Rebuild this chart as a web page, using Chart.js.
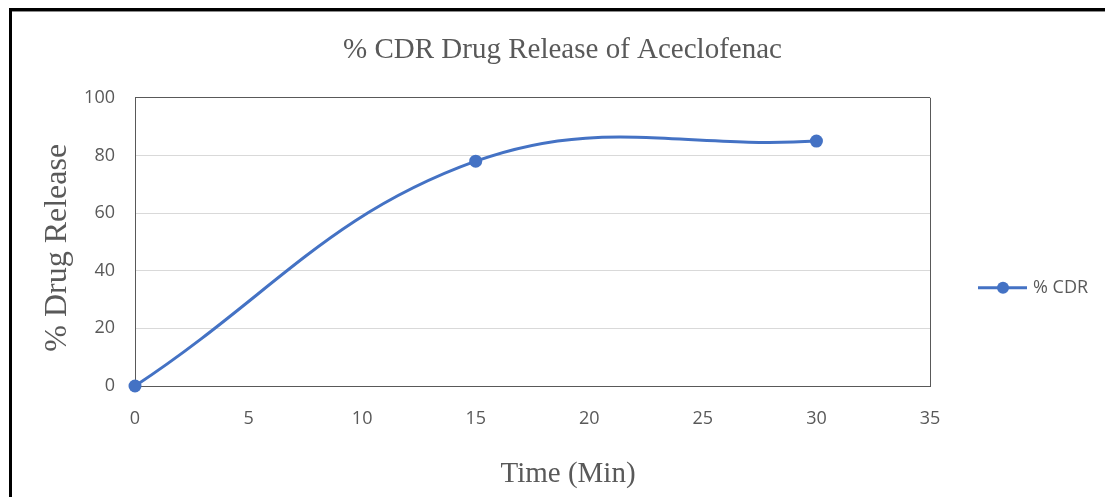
<!DOCTYPE html>
<html>
<head>
<meta charset="utf-8">
<title>% CDR Drug Release of Aceclofenac</title>
<script src="https://cdn.jsdelivr.net/npm/chart.js@4/dist/chart.umd.min.js"></script>
<style>
  html, body { margin: 0; padding: 0; background: #fff; }
  #wrap { position: relative; width: 1105px; height: 497px; }
</style>
</head>
<body>
<div id="wrap"><canvas id="cdrChart" width="1105" height="497"></canvas></div>
<script>
/* data */
const timeMin = [0, 15, 30];
const cdrValues = [0, 78, 85];
const seriesName = '% CDR';
const xTicks = [0, 5, 10, 15, 20, 25, 30, 35];
const yTicks = [0, 20, 40, 60, 80, 100];
const xTitle = 'Time (Min)';
const yTitle = '% Drug Release';

const BLUE = '#4472C4';
const GREY_TEXT = '#595959';
const BOX = '#595959';
const GRID = '#d9d9d9';
const SERIF = '"Liberation Serif", "Times New Roman", serif';

// outer frame, axis titles and the legend entry at the right
const framePlugin = {
  id: 'frameAndLegend',
  afterDraw(chart) {
    const ctx = chart.ctx;
    const area = chart.chartArea;
    ctx.save();
    ctx.fillStyle = '#000';
    ctx.fillRect(9, 8, chart.width - 9, 3);
    ctx.fillRect(9, 8, 3, chart.height - 8);
    ctx.fillStyle = '#8c8c8c';
    ctx.fillRect(12, 11, chart.width - 12, 1);

    // axis titles
    ctx.fillStyle = GREY_TEXT;
    ctx.textAlign = 'center';
    ctx.textBaseline = 'middle';
    ctx.font = '29px ' + SERIF;
    ctx.fillText(xTitle, area.left + 433, 474);
    ctx.save();
    ctx.translate(58, area.top + 150);
    ctx.rotate(-Math.PI / 2);
    ctx.font = '32px ' + SERIF;
    ctx.fillText(yTitle, 0, 0);
    ctx.restore();

    // legend
    const ds = chart.data.datasets[0];
    const lx = area.right + 48;
    const ly = area.top + 190;
    ctx.strokeStyle = ds.borderColor;
    ctx.lineWidth = 3;
    ctx.beginPath();
    ctx.moveTo(lx, ly);
    ctx.lineTo(lx + 49, ly);
    ctx.stroke();
    ctx.fillStyle = ds.backgroundColor;
    ctx.beginPath();
    ctx.arc(lx + 25, ly, 6, 0, Math.PI * 2);
    ctx.fill();
    ctx.fillStyle = GREY_TEXT;
    ctx.font = '18px "Open Sans"';
    ctx.textAlign = 'left';
    ctx.fillText(ds.label, lx + 55, ly);
    ctx.restore();
  }
};

const points = timeMin.map((t, i) => ({ x: t, y: cdrValues[i] }));

new Chart(document.getElementById('cdrChart').getContext('2d'), {
  type: 'scatter',
  data: {
    datasets: [{
      label: seriesName,
      data: points,
      showLine: true,
      tension: 0.4,
      borderColor: BLUE,
      backgroundColor: BLUE,
      borderWidth: 3,
      pointRadius: 6.5,
      pointBorderWidth: 0,
      clip: false
    }]
  },
  options: {
    responsive: false,
    animation: false,
    layout: { padding: { left: 20, right: 0, top: 0, bottom: 0 } },
    plugins: {
      legend: { display: false },
      tooltip: { enabled: false },
      title: {
        display: true,
        text: '% CDR Drug Release of Aceclofenac',
        color: GREY_TEXT,
        font: { family: SERIF, size: 29, weight: 'normal' },
        padding: { top: 33, bottom: 30 }
      }
    },
    scales: {
      x: {
        type: 'linear',
        min: 0,
        max: 35,
        afterBuildTicks: s => { s.ticks = xTicks.map(v => ({ value: v })); },
        afterFit: s => { s.height = 111; },
        ticks: {
          color: GREY_TEXT,
          padding: 22,
          font: { family: '"Open Sans"', size: 18 }
        },
        grid: {
          drawTicks: false,
          color: c => (c.tick && c.tick.value === 35 ? BOX : 'rgba(0,0,0,0)'),
          lineWidth: 1
        },
        border: { color: BOX, width: 1 }
      },
      y: {
        min: 0,
        max: 100,
        afterBuildTicks: s => { s.ticks = yTicks.map(v => ({ value: v })); },
        afterFit: s => { s.width = 115; },
        ticks: {
          color: GREY_TEXT,
          padding: 20,
          font: { family: '"Open Sans"', size: 18 }
        },
        grid: {
          drawTicks: false,
          color: c => (c.tick && c.tick.value === 100 ? BOX : GRID),
          lineWidth: 1
        },
        border: { color: BOX, width: 1 }
      },
      // empty band on the right that holds the legend
      legendBand: {
        position: 'right',
        display: true,
        afterFit: s => { s.width = 175; },
        ticks: { display: false },
        grid: { display: false, drawOnChartArea: false },
        border: { display: false }
      }
    }
  },
  plugins: [framePlugin]
});
</script>
</body>
</html>
